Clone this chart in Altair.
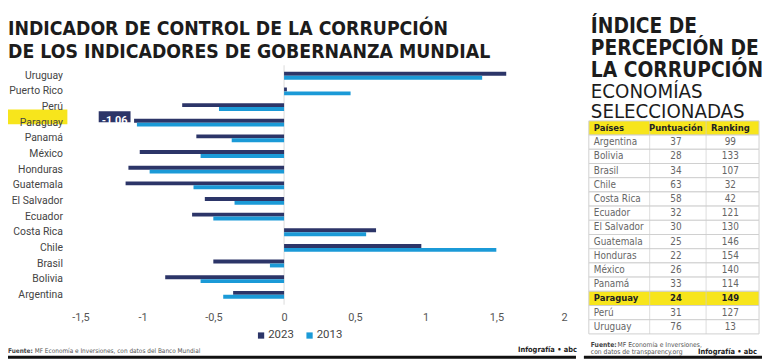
import altair as alt
import pandas as pd

# ---------------- data ----------------
paises = ["Uruguay", "Puerto Rico", "Perú", "Paraguay", "Panamá", "México", "Honduras",
          "Guatemala", "El Salvador", "Ecuador", "Costa Rica", "Chile", "Brasil", "Bolivia", "Argentina"]
valores_2023 = [1.57, 0.02, -0.72, -1.06, -0.62, -1.02, -1.10, -1.12, -0.56, -0.65, 0.65, 0.97, -0.50, -0.84, -0.36]
valores_2013 = [1.40, 0.47, -0.46, -1.04, -0.37, -0.59, -0.95, -0.64, -0.35, -0.50, 0.58, 1.50, -0.10, -0.59, -0.43]
anios = ["2023", "2013"]
ticks_x = [-1.5, -1, -0.5, 0, 0.5, 1, 1.5, 2]

tabla_encabezado = ["Países", "Puntuación", "Ranking"]
tabla_paises = ["Argentina", "Bolivia", "Brasil", "Chile", "Costa Rica", "Ecuador", "El Salvador",
                "Guatemala", "Honduras", "México", "Panamá", "Paraguay", "Perú", "Uruguay"]
tabla_puntuacion = [37, 28, 34, 63, 58, 32, 30, 25, 22, 26, 33, 24, 31, 76]
tabla_ranking = [99, 133, 107, 32, 42, 121, 130, 146, 154, 140, 114, 149, 127, 13]
destacado = "Paraguay"

# ---------------- style ----------------
NAVY = "#2c3568"
BLUE = "#1b9ad7"
YELLOW = "#f7e51c"
NARROW = "'DejaVu Sans Condensed', sans-serif"
ROBOTO = "Roboto, sans-serif"
W, H = 762, 354

df_bars = pd.DataFrame(
    [{"pais": p, "anio": "2023", "valor": v} for p, v in zip(paises, valores_2023)]
    + [{"pais": p, "anio": "2013", "valor": v} for p, v in zip(paises, valores_2013)]
)
df_paises = pd.DataFrame({"pais": paises, "v2023": valores_2023})

xscale = alt.Scale(domain=[-1.5, 2], range=[64.5, 565], nice=False)
yscale = alt.Scale(domain=paises, range=[58.7, 295.9], paddingInner=0.5, paddingOuter=0.25)


def txt(text, x, y, size, weight="normal", color="#222", align="left", font=NARROW, baseline="alphabetic"):
    return alt.Chart(pd.DataFrame({"t": [text]})).mark_text(
        align=align, baseline=baseline, font=font, fontSize=size, fontWeight=weight, color=color
    ).encode(x=alt.value(x), y=alt.value(y), text="t:N")


def hbar(x1, x2, y1, y2, color="#111"):
    return alt.Chart(pd.DataFrame({"a": [0]})).mark_rect(color=color).encode(
        x=alt.value(x1), x2=alt.value(x2), y=alt.value(y1), y2=alt.value(y2))


# highlight behind Paraguay label
highlight = alt.Chart(df_paises).transform_filter(alt.datum.pais == destacado).mark_bar(
    color=YELLOW, size=15).encode(
    y=alt.Y("pais:N", scale=yscale, axis=None),
    x=alt.value(0), x2=alt.value(60), yOffset=alt.value(-2))

zero_line = alt.Chart(pd.DataFrame({"z": [0]})).mark_rule(color="#dcdcdc", strokeWidth=1).encode(
    x=alt.X("z:Q", scale=xscale, axis=None), y=alt.value(56), y2=alt.value(298))

bars = alt.Chart(df_bars).mark_bar().encode(
    x=alt.X("valor:Q", scale=xscale,
            axis=alt.Axis(values=ticks_x, labelExpr="replace(toString(datum.value), '.', ',')",
                          domain=False, ticks=False, grid=False, labelPadding=0, offset=-49,
                          labelFont=ROBOTO, labelFontSize=11, labelColor="#555", title=None)),
    y=alt.Y("pais:N", scale=yscale, axis=None),
    yOffset=alt.YOffset("anio:N", scale=alt.Scale(domain=anios)),
    color=alt.Color("anio:N", scale=alt.Scale(domain=anios, range=[NAVY, BLUE]),
                    legend=alt.Legend(orient="none", legendX=250, legendY=323, direction="horizontal",
                                      title=None, symbolType="square", symbolSize=40, padding=0,
                                      labelFont=ROBOTO, labelFontSize=11.5, labelColor="#444",
                                      labelOffset=1.5, columnPadding=10, symbolStrokeWidth=0)),
)

labels = alt.Chart(df_paises).mark_text(align="right", baseline="middle", font=ROBOTO,
                                         fontSize=10.5, color="#444").encode(
    y=alt.Y("pais:N", scale=yscale, axis=None), x=alt.value(55.5), text="pais:N")

box_base = alt.Chart(df_paises).transform_filter(alt.datum.pais == destacado).transform_calculate(
    lo="datum.v2023 - 0.25", hi="datum.v2023 - 0.025", mid="datum.v2023 - 0.1375",
    lab="replace(toString(datum.v2023), '.', ',')")
box = box_base.mark_bar(color=NAVY, size=11).encode(
    x=alt.X("lo:Q", scale=xscale, axis=None), x2="hi:Q",
    y=alt.Y("pais:N", scale=yscale, axis=None), yOffset=alt.value(-2))
box_text = box_base.mark_text(color="white", font=ROBOTO, fontWeight="bold", fontSize=11,
                              baseline="middle").encode(
    x=alt.X("mid:Q", scale=xscale, axis=None),
    y=alt.Y("pais:N", scale=yscale, axis=None), yOffset=alt.value(-2), text="lab:N")

# ---------------- table ----------------
filas = [tabla_encabezado[0]] + tabla_paises
df_tabla = pd.DataFrame({
    "fila": filas,
    "c1": filas,
    "c2": [tabla_encabezado[1]] + [str(v) for v in tabla_puntuacion],
    "c3": [tabla_encabezado[2]] + [str(v) for v in tabla_ranking],
    "tipo": ["head"] + ["dest" if p == destacado else "normal" for p in tabla_paises],
})
tscale = alt.Scale(domain=filas, range=[112.2, 327.5], paddingInner=0, paddingOuter=0)
ty = alt.Y("fila:N", scale=tscale, axis=None)

cells = alt.Chart(df_tabla).mark_rect(stroke="#cfcfcf", strokeWidth=1).encode(
    y=ty, x=alt.value(587), x2=alt.value(759),
    fill=alt.Fill("tipo:N", scale=alt.Scale(domain=["head", "dest", "normal"],
                                            range=[YELLOW, YELLOW, "white"]), legend=None))
vsep_full = alt.Chart(df_tabla).mark_tick(color="#cfcfcf", thickness=1, orient="vertical").encode(
    y=ty, x=alt.value(648.5))
vsep_full2 = alt.Chart(df_tabla).mark_tick(color="#cfcfcf", thickness=1, orient="vertical").encode(
    y=ty, x=alt.value(705.5))

table_text = []
for col, xpos, al in [("c1", 592, "left"), ("c2", 675, "center"), ("c3", 730, "center")]:
    table_text.append(alt.Chart(df_tabla).transform_filter(alt.datum.tipo == "normal").mark_text(
        align=al, baseline="middle", font=NARROW, fontSize=10, color="#666").encode(
        y=ty, x=alt.value(xpos), text=f"{col}:N"))
    table_text.append(alt.Chart(df_tabla).transform_filter(alt.datum.tipo != "normal").mark_text(
        align=al, baseline="middle", font=NARROW, fontSize=9.5, fontWeight="bold", color="#222").encode(
        y=ty, x=alt.value(xpos), text=f"{col}:N"))

# ---------------- texts ----------------
texts = [
    txt("INDICADOR DE CONTROL DE LA CORRUPCIÓN", 0, 25.5, 19.5, "bold", "#1c1c1c"),
    txt("DE LOS INDICADORES DE GOBERNANZA MUNDIAL", 0, 48.4, 19.5, "bold", "#1c1c1c"),
    txt("ÍNDICE DE", 589, 23.5, 21, "bold", "#1c1c1c"),
    txt("PERCEPCIÓN DE", 589, 46, 21, "bold", "#1c1c1c"),
    txt("LA CORRUPCIÓN", 589, 68, 21, "bold", "#1c1c1c"),
    txt("ECONOMÍAS", 589, 89.5, 20.5, "normal", "#1c1c1c"),
    txt("SELECCIONADAS", 589, 109, 20.5, "normal", "#1c1c1c"),
    txt("Fuente:", 0, 347, 6.5, "bold", "#444"),
    txt("MF Economía e Inversiones, con datos del Banco Mundial", 27, 347, 6.5, "normal", "#555"),
    txt("Infografía • abc", 575, 346, 7.5, "bold", "#222", align="right"),
    txt("Fuente:", 589, 340.7, 6.8, "bold", "#444"),
    txt("MF Economía e Inversiones,", 616, 340.7, 6.8, "normal", "#555"),
    txt("con datos de transparency.org", 589, 348, 6.8, "normal", "#555"),
    txt("Infografía • abc", 757, 348, 7.5, "bold", "#222", align="right"),
    hbar(0, 574, 349.5, 352.5),
    hbar(582, 762, 349.5, 352.5),
]

chart = alt.layer(
    highlight, zero_line, bars, labels, box, box_text,
    cells, vsep_full, vsep_full2, *table_text, *texts
).resolve_scale(x="independent", y="independent", color="independent", fill="independent").properties(
    width=W, height=H, autosize=alt.AutoSizeParams(type="none"), padding=0, background="white"
).configure_view(stroke=None)

chart.save("out.html", embed_options={"renderer": "svg", "actions": False})
